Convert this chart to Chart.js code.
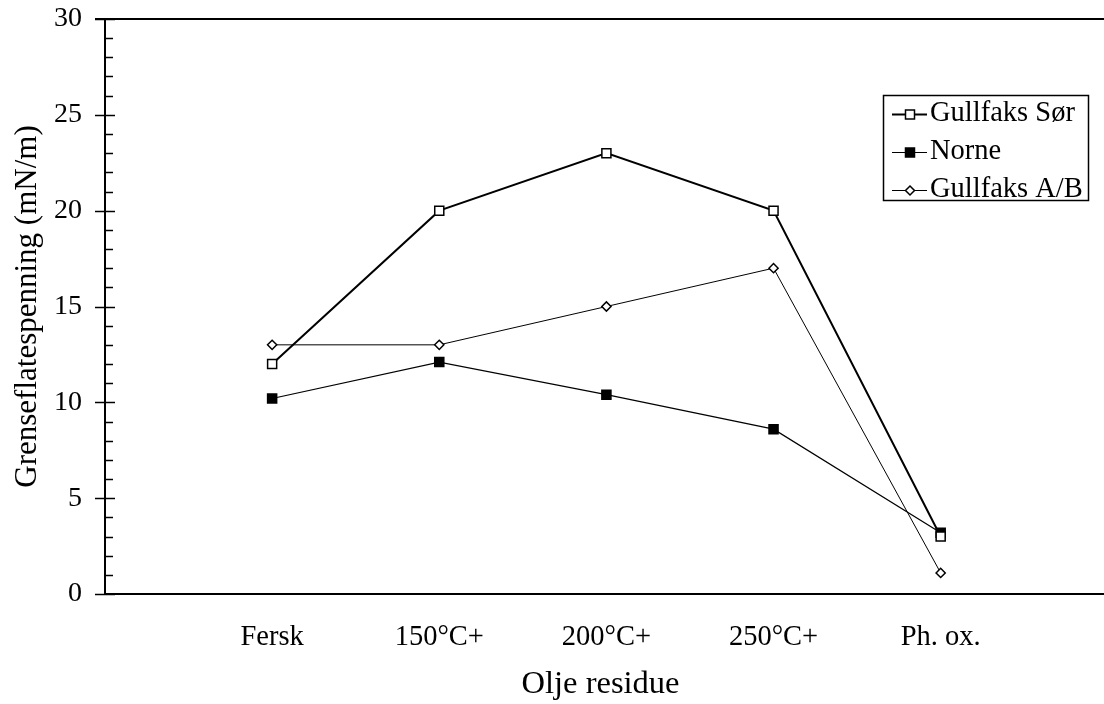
<!DOCTYPE html>
<html>
<head>
<meta charset="utf-8">
<script src="https://cdn.jsdelivr.net/npm/chart.js@4/dist/chart.umd.min.js"></script>
<style>
  html, body { margin: 0; padding: 0; background: #fff; overflow: hidden; }
</style>
</head>
<body>
<canvas id="olje" width="1104" height="704"></canvas>
<script>
// Categorieen (x-as) en meetwaarden per olje
var categories = ["Fersk", "150°C+", "200°C+", "250°C+", "Ph. ox."];
var gullfaksSor = [12, 20, 23, 20, 3.0];
var norne = [10.2, 12.1, 10.4, 8.6, 3.2];
var gullfaksAB = [13, 13, 15, 17, 1.1];
var yTicks = [0, 5, 10, 15, 20, 25, 30];

var serif = "'Liberation Serif', 'Times New Roman', serif";

// punten op positie 1..5 zodat er links en rechts een lege plek is
function toPoints(values) {
    return values.map(function (v, i) { return { x: i + 1, y: v }; });
}

// tekent de kleine streepjes op de y-as, de lijn bovenaan en de x-as tot de rand
var axisExtras = {
    id: "axisExtras",
    afterDraw: function (chart) {
        var ctx = chart.ctx;
        var area = chart.chartArea;
        var y = chart.scales.y;
        ctx.save();
        ctx.strokeStyle = "#000";
        ctx.lineWidth = 1.5;
        for (var v = 0; v <= 30; v++) {
            var py = Math.round(y.getPixelForValue(v)) + 0.5;
            ctx.beginPath();
            if (v % 5 === 0) {
                ctx.moveTo(area.left - 10, py);
                ctx.lineTo(area.left + 10, py);
            } else {
                ctx.moveTo(area.left, py);
                ctx.lineTo(area.left + 8, py);
            }
            ctx.stroke();
        }
        // bovenlijn en verlengde x-as
        ctx.lineWidth = 2;
        ctx.beginPath();
        ctx.moveTo(area.left - 10, area.top);
        ctx.lineTo(chart.width, area.top);
        ctx.moveTo(area.right - 2, area.bottom);
        ctx.lineTo(chart.width, area.bottom);
        ctx.stroke();
        ctx.restore();
    }
};

// legenda met lijntje en marker zoals in het origineel
var boxLegend = {
    id: "boxLegend",
    afterDraw: function (chart) {
        var ctx = chart.ctx;
        var bx = 883, by = 95, bw = 205, bh = 105;
        ctx.save();
        ctx.strokeStyle = "#000";
        ctx.lineWidth = 1.5;
        ctx.strokeRect(bx + 0.5, by + 0.5, bw, bh);
        ctx.font = "28.5px " + serif;
        ctx.textBaseline = "middle";
        ctx.fillStyle = "#000";
        var rows = [114, 152, 190];
        chart.data.datasets.forEach(function (ds, i) {
            var ry = rows[i] + 0.5;
            ctx.lineWidth = ds.borderWidth;
            ctx.beginPath();
            ctx.moveTo(892, ry);
            ctx.lineTo(927, ry);
            ctx.stroke();
            ctx.lineWidth = 1.5;
            ctx.fillStyle = ds.pointBackgroundColor;
            ctx.beginPath();
            if (ds.pointStyle === "rectRot") {
                ctx.moveTo(910, ry - 4.5);
                ctx.lineTo(914.5, ry);
                ctx.lineTo(910, ry + 4.5);
                ctx.lineTo(905.5, ry);
                ctx.closePath();
            } else {
                ctx.rect(905.5, ry - 4.5, 9, 9);
            }
            ctx.fill();
            ctx.stroke();
            ctx.fillStyle = "#000";
            ctx.fillText(ds.label, 930, rows[i]);
        });
        ctx.restore();
    }
};

var ctx = document.getElementById("olje").getContext("2d");
var chart = new Chart(ctx, {
    type: "line",
    data: {
        datasets: [{
            label: "Gullfaks Sør",
            data: toPoints(gullfaksSor),
            borderColor: "#000",
            borderWidth: 2,
            pointStyle: "rect",
            pointRadius: 6.4,
            pointBorderWidth: 1.5,
            pointBorderColor: "#000",
            pointBackgroundColor: "#fff"
        }, {
            label: "Norne",
            data: toPoints(norne),
            borderColor: "#000",
            borderWidth: 1.2,
            pointStyle: "rect",
            pointRadius: 6.4,
            pointBorderWidth: 1.5,
            pointBorderColor: "#000",
            pointBackgroundColor: "#000"
        }, {
            label: "Gullfaks A/B",
            data: toPoints(gullfaksAB),
            borderColor: "#000",
            borderWidth: 1,
            pointStyle: "rectRot",
            pointRadius: 4.6,
            pointBorderWidth: 1.5,
            pointBorderColor: "#000",
            pointBackgroundColor: "#fff"
        }]
    },
    options: {
        responsive: false,
        animation: false,
        devicePixelRatio: 1,
        layout: { padding: { top: 19, left: 0, right: 0, bottom: 0 } },
        plugins: {
            legend: { display: false },
            tooltip: { enabled: false }
        },
        scales: {
            x: {
                type: "linear",
                min: 0,
                max: 5.93,
                afterFit: function (s) {
                    s.height = 110;
                    s.paddingLeft = 0;
                    s.paddingRight = 0;
                },
                grid: { display: false, drawTicks: false },
                border: { display: true, color: "#000", width: 2 },
                ticks: {
                    stepSize: 1,
                    autoSkip: false,
                    maxRotation: 0,
                    padding: 26,
                    color: "#000",
                    font: { family: serif, size: 28.5 },
                    callback: function (v) {
                        return Number.isInteger(v) && v >= 1 && v <= categories.length ? categories[v - 1] : "";
                    }
                },
                title: {
                    display: true,
                    text: "Olje residue",
                    color: "#000",
                    font: { family: serif, size: 32.5 },
                    padding: { top: 0, bottom: 0 }
                }
            },
            y: {
                min: 0,
                max: 30,
                afterFit: function (s) {
                    s.width = 105;
                    s.paddingTop = 0;
                    s.paddingBottom = 0;
                },
                afterBuildTicks: function (s) {
                    s.ticks = yTicks.map(function (v) { return { value: v }; });
                },
                grid: { display: false, drawTicks: false },
                border: { display: true, color: "#000", width: 2 },
                ticks: {
                    padding: 23,
                    color: "#000",
                    font: { family: serif, size: 28 }
                },
                title: {
                    display: true,
                    text: "Grenseflatespenning (mN/m)",
                    color: "#000",
                    font: { family: serif, size: 31 },
                    padding: { top: 9, bottom: 0 }
                }
            }
        }
    },
    plugins: [axisExtras, boxLegend]
});
</script>
</body>
</html>
